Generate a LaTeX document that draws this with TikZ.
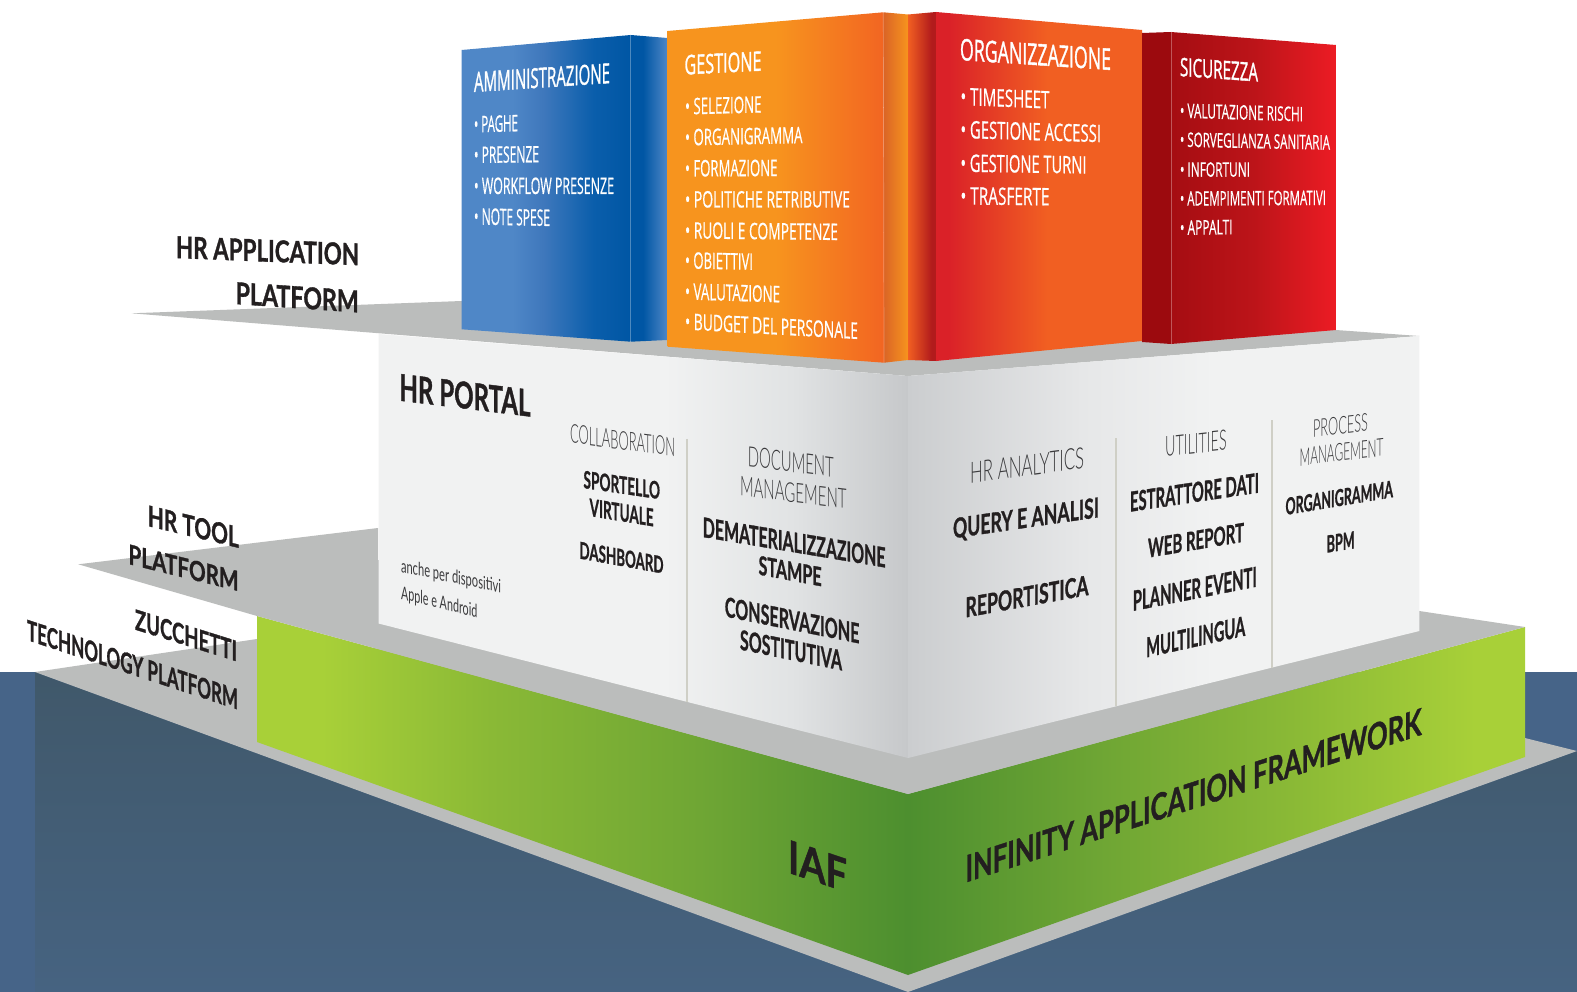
\documentclass[tikz,border=0pt]{standalone}
\usepackage{fontspec}
\usepackage{graphicx}
\newfontfamily\cardfont{Open Sans}[RawFeature={embolden=0.7}]
\newfontfamily\cardhead{Open Sans}[RawFeature={embolden=1.5}]
\newfontfamily\boldfont{Lato}[UprightFont=* Bold,RawFeature={embolden=1.2}]
\newfontfamily\thinfont{Lato}[UprightFont=* Light]
\newfontfamily\noteFont{Lato}
\definecolor{groundtop}{HTML}{40586A}
\definecolor{groundlow}{HTML}{466381}
\definecolor{groundlight}{HTML}{466488}
\definecolor{slab}{HTML}{BBBDBC}
\definecolor{divider}{HTML}{CFCFC6}
\definecolor{ink}{HTML}{231F20}
\definecolor{inkthin}{HTML}{3A3A3C}
\definecolor{blueA}{HTML}{4F87C7}\definecolor{blueB}{HTML}{3F78BC}\definecolor{blueC}{HTML}{0A5EAB}\definecolor{blueD}{HTML}{0056A4}
\definecolor{orA}{HTML}{F7941E}\definecolor{orB}{HTML}{F26522}\definecolor{orC}{HTML}{DA6426}
\definecolor{redA}{HTML}{DA2128}\definecolor{redB}{HTML}{B21B1C}\definecolor{redC}{HTML}{F15F22}
\definecolor{secA}{HTML}{9C0A0E}\definecolor{secB}{HTML}{A50D12}\definecolor{secC}{HTML}{BC1419}\definecolor{secD}{HTML}{EC1C24}
\definecolor{twA}{HTML}{F1F2F2}\definecolor{twB}{HTML}{E1E3E4}\definecolor{twC}{HTML}{C6C8CA}\definecolor{twD}{HTML}{CBCDCF}\definecolor{twE}{HTML}{E6E7E8}
\definecolor{grA}{HTML}{A8D038}\definecolor{grB}{HTML}{8AB936}\definecolor{grC}{HTML}{6FA634}\definecolor{grD}{HTML}{4D8F2F}
\pgfdeclarehorizontalshading{blueFront}{100bp}{color(0bp)=(blueA);color(25bp)=(blueA);color(40bp)=(blueA);color(49bp)=(blueB);color(64bp)=(blueC);color(75bp)=(blueD);color(100bp)=(blueD)}
\pgfdeclarehorizontalshading{blueSide}{100bp}{color(0bp)=(blueD);color(25bp)=(blueD);color(42bp)=(blueD);color(75bp)=(blueA);color(100bp)=(blueA)}
\pgfdeclarehorizontalshading{orFront}{100bp}{color(0bp)=(orA);color(25bp)=(orA);color(50bp)=(orA);color(75bp)=(orB);color(100bp)=(orB)}
\pgfdeclarehorizontalshading{orSide}{100bp}{color(0bp)=(orC);color(25bp)=(orC);color(75bp)=(orA);color(100bp)=(orA)}
\pgfdeclarehorizontalshading{redSide}{100bp}{color(0bp)=(redC);color(25bp)=(redC);color(67bp)=(redB);color(75bp)=(redB);color(100bp)=(redB)}
\pgfdeclarehorizontalshading{redFront}{100bp}{color(0bp)=(redA);color(25bp)=(redA);color(28bp)=(redA);color(52bp)=(redC);color(100bp)=(redC)}
\pgfdeclarehorizontalshading{secFront}{100bp}{color(0bp)=(secB);color(25bp)=(secB);color(50bp)=(secC);color(75bp)=(secD);color(100bp)=(secD)}
\pgfdeclarehorizontalshading{towerLeft}{100bp}{color(0bp)=(twA);color(25bp)=(twA);color(52bp)=(twA);color(64bp)=(twB);color(75bp)=(twC);color(100bp)=(twC)}
\pgfdeclarehorizontalshading{towerRight}{100bp}{color(0bp)=(twD);color(25bp)=(twD);color(42bp)=(twE);color(55bp)=(twA);color(100bp)=(twA)}
\pgfdeclarehorizontalshading{greenLeft}{100bp}{color(0bp)=(grA);color(25bp)=(grA);color(30bp)=(grA);color(43bp)=(grB);color(59bp)=(grC);color(75bp)=(grD);color(100bp)=(grD)}
\pgfdeclarehorizontalshading{greenRight}{100bp}{color(0bp)=(grD);color(25bp)=(grD);color(41bp)=(grC);color(56bp)=(grB);color(71bp)=(grA);color(100bp)=(grA)}
\tikzset{
  lbl/.style={transform shape,anchor=base west,inner sep=0pt,outer sep=0pt},
  cardtext/.style={text=white,font=\cardfont\fontsize{20}{24}\selectfont},
  headtext/.style={text=white,font=\cardhead\fontsize{20}{24}\selectfont},
  boldtext/.style={text=ink,font=\boldfont\fontsize{20}{24}\selectfont},
  thintext/.style={text=inkthin,font=\thinfont\fontsize{20}{24}\selectfont},
  notetext/.style={text=inkthin,font=\noteFont\fontsize{20}{24}\selectfont},
  face/.style={shade,shading=#1,draw=none},
  seam/.style={draw=white,draw opacity=.3,line width=.7pt},
  rib/.style={draw=divider,line width=2.2pt}
}
\newcommand\tx[8]{\node[lbl,#7,yslant=#4] (#1) at (#2,#3) {\resizebox{#5pt}{#6pt}{#8}};}
\begin{document}
\begin{tikzpicture}[x=1pt,y=-1pt]
\useasboundingbox (0,0) rectangle (1577,992);
% ground
\fill[white] (0,0) rectangle (1577,992);
\fill[groundlight] (0,672) rectangle (1577,992);
\shade[top color=groundtop,bottom color=groundlow] (35,672) -- (908,992) -- (1577,751) -- (1577,992) -- (35,992) -- cycle;
% low slab
\fill[slab] (35,672) -- (257,639) -- (1525,738) -- (1577,751) -- (908,992) -- cycle;
% green band
\path[face=greenLeft] (257,616) -- (908,794) -- (908,975) -- (257,742) -- cycle;
\path[face=greenRight] (908,794) -- (1525,627) -- (1525,757) -- (908,975) -- cycle;
% middle slab
\fill[slab] (78.3,564.3) -- (378,528) -- (378,560) -- (1419.3,611) -- (1525,627) -- (908,794) -- (257,616) -- cycle;
% top slab
\fill[slab] (131.7,313.3) -- (461.7,301) -- (1336,330) -- (1419.3,336) -- (908,376) -- cycle;
% tower
\path[face=towerLeft] (378.5,334) -- (908,376) -- (908,758) -- (378.5,623.5) -- cycle;
\path[face=towerRight] (908,376) -- (1419.3,336) -- (1419.3,631) -- (908,758) -- cycle;
\draw[rib] (686.8,438.8) -- (686.8,702);
\draw[rib] (1115.7,438) -- (1115.7,706);
\draw[rib] (1272.3,420) -- (1272.3,668);
% cards
\path[face=blueSide] (630.7,35) -- (667.5,38) -- (667.5,340) -- (630.7,341.7) -- cycle;
\path[face=blueFront] (461.7,50) -- (630.7,35) -- (630.7,341.7) -- (461.7,329.3) -- cycle;
\draw[seam] (630.7,35) -- (630.7,341.7);
\path[face=orSide] (883.3,12.3) -- (908,14.5) -- (908,360) -- (884,362.7) -- cycle;
\path[face=orFront] (667.5,31) -- (883.3,12.3) -- (884,362.7) -- (667.5,346.7) -- cycle;
\draw[seam] (883.3,12.3) -- (884,362.7);
\path[face=redSide] (908,14.5) -- (936,12) -- (936,361) -- (908,360) -- cycle;
\path[face=redFront] (936,12) -- (1142,30) -- (1142,341) -- (936,361) -- cycle;
\fill[secA] (1142,33) -- (1171,32) -- (1171,344) -- (1142,342) -- cycle;
\path[face=secFront] (1171,32) -- (1336,45) -- (1336,330) -- (1171,344) -- cycle;
\draw[seam] (1171,32) -- (1171,344);
% card texts
\tx{t1}{474}{92}{.066}{136}{20}{headtext}{AMMINISTRAZIONE}
\tx{t2}{474}{132.5}{.03}{44}{16.5}{cardtext}{• PAGHE}
\tx{t3}{474}{163}{.01}{65}{16.5}{cardtext}{• PRESENZE}
\tx{t4}{474}{194}{0}{140}{16.5}{cardtext}{• WORKFLOW PRESENZE}
\tx{t5}{474}{224.5}{-.02}{76}{16.5}{cardtext}{• NOTE SPESE}
\tx{g0}{684.5}{74.5}{.05}{77}{19.5}{headtext}{GESTIONE}
\tx{g1}{685}{114.5}{.026}{76.5}{16.5}{cardtext}{• SELEZIONE}
\tx{g2}{685}{145.5}{.02}{117.5}{16.5}{cardtext}{• ORGANIGRAMMA}
\tx{g3}{685}{176.5}{.005}{92.5}{16.5}{cardtext}{• FORMAZIONE}
\tx{g4}{685}{207.5}{0}{165}{16.5}{cardtext}{• POLITICHE RETRIBUTIVE}
\tx{g5}{685}{238.5}{-.01}{153}{16.5}{cardtext}{• RUOLI E COMPETENZE}
\tx{g6}{685}{268.5}{-.02}{68}{16.5}{cardtext}{• OBIETTIVI}
\tx{g7}{685}{299.5}{-.03}{95}{16.5}{cardtext}{• VALUTAZIONE}
\tx{g8}{685}{329.5}{-.055}{173}{16.5}{cardtext}{• BUDGET DEL PERSONALE}
\tx{o0}{960}{60}{-.066}{151}{21.5}{headtext}{ORGANIZZAZIONE}
\tx{o1}{960.5}{105}{-.04}{89}{17.5}{cardtext}{• TIMESHEET}
\tx{o2}{960.5}{138}{-.03}{140.5}{17.5}{cardtext}{• GESTIONE ACCESSI}
\tx{o3}{960.5}{171.7}{-.015}{126}{17.5}{cardtext}{• GESTIONE TURNI}
\tx{o4}{960.5}{204.5}{-.01}{89}{17.5}{cardtext}{• TRASFERTE}
\tx{s0}{1180}{76}{-.07}{78}{18.5}{headtext}{SICUREZZA}
\tx{s1}{1180}{117.7}{-.03}{123}{14.5}{cardtext}{• VALUTAZIONE RISCHI}
\tx{s2}{1180}{146.7}{-.02}{150}{14.5}{cardtext}{• SORVEGLIANZA SANITARIA}
\tx{s3}{1180}{176.7}{0}{70}{14.5}{cardtext}{• INFORTUNI}
\tx{s4}{1180}{205.7}{.005}{146}{14.5}{cardtext}{• ADEMPIMENTI FORMATIVI}
\tx{s5}{1180}{235}{.015}{52.5}{14.5}{cardtext}{• APPALTI}
% tower texts, left face
\tx{p0}{399.5}{400.6}{-.122}{131}{27}{boldtext}{HR PORTAL}
\tx{p1}{570}{442.8}{-.13}{105}{18.5}{thintext}{COLLABORATION}
\tx{p2}{583.5}{488}{-.146}{76.5}{17.5}{boldtext}{SPORTELLO}
\tx{p3}{589.6}{516}{-.163}{64}{17.5}{boldtext}{VIRTUALE}
\tx{p4}{579.5}{558.5}{-.18}{84}{17}{boldtext}{DASHBOARD}
\tx{p5}{401}{572}{-.21}{100}{13.5}{notetext}{anche per dispositivi}
\tx{p6}{401}{599}{-.244}{76.4}{13.5}{notetext}{Apple e Android}
\tx{d0}{747.8}{466.5}{-.125}{86}{20}{thintext}{DOCUMENT}
\tx{d1}{740}{495.5}{-.127}{106.5}{19.5}{thintext}{MANAGEMENT}
\tx{d2}{702.8}{537}{-.167}{182.6}{20}{boldtext}{DEMATERIALIZZAZIONE}
\tx{d3}{758.6}{574.5}{-.187}{63}{19}{boldtext}{STAMPE}
\tx{d4}{724.8}{616.5}{-.2}{134.6}{20}{boldtext}{CONSERVAZIONE}
\tx{d5}{740}{649.5}{-.205}{102}{20}{boldtext}{SOSTITUTIVA}
% tower texts, right face
\tx{a0}{970.2}{483.3}{.132}{114}{21}{thintext}{HR ANALYTICS}
\tx{a1}{953}{538.3}{.145}{146}{20}{boldtext}{QUERY E ANALISI}
\tx{a2}{965.5}{617.5}{.183}{123}{20}{boldtext}{REPORTISTICA}
\tx{u0}{1165.2}{456.7}{.11}{61.5}{20}{thintext}{UTILITIES}
\tx{u1}{1130}{511.7}{.148}{129}{20}{boldtext}{ESTRATTORE DATI}
\tx{u2}{1148}{557.7}{.168}{96}{19}{boldtext}{WEB REPORT}
\tx{u3}{1132.8}{611}{.197}{124}{20}{boldtext}{PLANNER EVENTI}
\tx{u4}{1146.2}{657.5}{.22}{99}{20}{boldtext}{MULTILINGUA}
\tx{m0}{1313}{437.3}{.117}{55}{17.5}{thintext}{PROCESS}
\tx{m1}{1299.5}{466.2}{.12}{84}{17.5}{thintext}{MANAGEMENT}
\tx{m2}{1285.5}{515}{.166}{107.5}{17}{boldtext}{ORGANIGRAMMA}
\tx{m3}{1326.7}{552.7}{.16}{28}{17}{boldtext}{BPM}
% platform labels
\tx{l1}{176}{258}{-.04}{183}{22}{boldtext}{HR APPLICATION}
\tx{l2}{235.7}{304}{-.069}{123}{22}{boldtext}{PLATFORM}
\tx{l3}{147.8}{526}{-.24}{91}{21}{boldtext}{HR TOOL}
\tx{l4}{128.5}{564}{-.246}{110}{20}{boldtext}{PLATFORM}
\tx{l5}{135}{629.5}{-.313}{102}{20.5}{boldtext}{ZUCCHETTI}
\tx{l6}{27}{640}{-.33}{211}{20.5}{boldtext}{TECHNOLOGY PLATFORM}
\tx{i0}{788}{872.5}{-.336}{59}{33}{boldtext}{IAF}
\tx{i1}{965.5}{882.5}{.324}{456}{27}{boldtext}{INFINITY APPLICATION FRAMEWORK}
\end{tikzpicture}
\end{document}
